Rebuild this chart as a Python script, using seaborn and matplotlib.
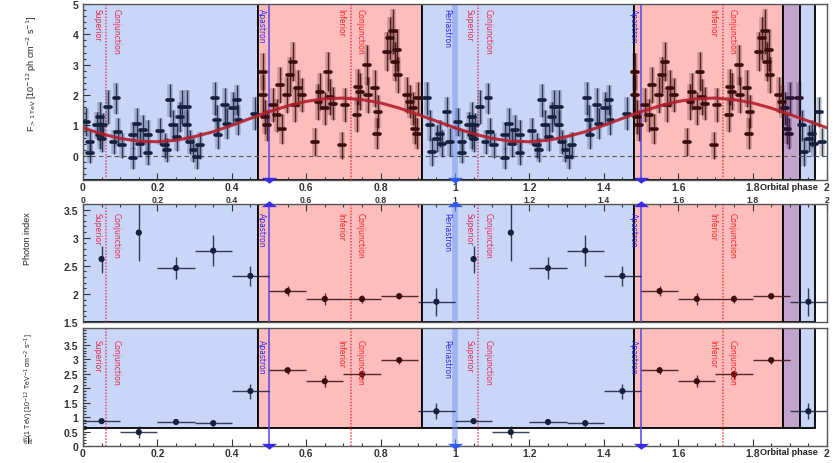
import matplotlib
matplotlib.use("Agg")
import matplotlib.pyplot as plt
import matplotlib.ticker as mticker
import numpy as np
import pandas as pd
import seaborn as sns

# ---------------- data (folded over one orbit) ----------------
lc_phase = [0.008, 0.019, 0.019, 0.037, 0.046, 0.046, 0.050, 0.055, 0.068, 0.082,
            0.090, 0.095, 0.104, 0.135, 0.135, 0.144, 0.153, 0.162, 0.176, 0.176,
            0.207, 0.220, 0.225, 0.234, 0.243, 0.252, 0.261, 0.265, 0.279, 0.279,
            0.288, 0.297, 0.306, 0.315, 0.355, 0.359, 0.364, 0.382, 0.386, 0.404,
            0.413, 0.418, 0.462, 0.485, 0.485, 0.489, 0.494, 0.512, 0.521, 0.530,
            0.534, 0.548, 0.556, 0.565, 0.570, 0.579, 0.588, 0.624, 0.633, 0.637,
            0.651, 0.659, 0.664, 0.673, 0.695, 0.704, 0.736, 0.740, 0.745, 0.763,
            0.767, 0.785, 0.790, 0.794, 0.816, 0.825, 0.834, 0.839, 0.843, 0.848,
            0.870, 0.879, 0.888, 0.892, 0.897, 0.901, 0.924, 0.933, 0.937, 0.951,
            0.960, 0.964, 0.978, 0.987]
lc_flux = [1.11, 0.10, 0.45, 1.00, 0.67, 1.28, 0.56, 1.00, 1.61, 0.45,
           1.89, 0.78, 0.34, 0.67, -0.08, 1.06, 0.40, 0.84, 0.67, 0.10,
           0.80, 0.34, 0.18, 1.83, 1.00, 0.62, 1.28, 1.61, 1.61, 1.00,
           0.45, 0.18, -0.04, 0.34, 1.89, 1.17, 0.67, 1.67, 1.06, 1.56,
           1.83, 1.17, 1.39, 2.77, 2.00, 1.28, 1.00, 1.67, 1.33, 2.33,
           0.89, 2.00, 2.66, 3.10, 1.67, 2.22, 2.00, 0.45, 1.78, 2.11,
           1.56, 2.77, 1.94, 1.72, 0.34, 1.67, 1.33, 2.27, 2.11, 2.99,
           2.00, 2.22, 0.73, 1.45, 3.43, 3.87, 4.10, 3.10, 3.49, 2.66,
           2.00, 1.78, 1.56, 0.89, 0.73, 1.89, 1.89, 1.00, 0.12, 0.56,
           0.73, 0.40, 1.45, 0.45]
lc_err = [0.45, 0.35, 0.40, 0.45, 0.45, 0.50, 0.45, 0.40, 0.55, 0.40,
          0.50, 0.45, 0.40, 0.45, 0.35, 0.50, 0.45, 0.50, 0.50, 0.40,
          0.45, 0.40, 0.40, 0.55, 0.50, 0.45, 0.50, 0.55, 0.55, 0.50,
          0.40, 0.40, 0.40, 0.45, 0.55, 0.50, 0.45, 0.55, 0.50, 0.55,
          0.50, 0.50, 0.55, 0.60, 0.65, 0.55, 0.50, 0.55, 0.55, 0.60,
          0.50, 0.60, 0.60, 0.65, 0.55, 0.60, 0.55, 0.45, 0.60, 0.60,
          0.55, 0.65, 0.60, 0.55, 0.45, 0.55, 0.55, 0.60, 0.60, 0.65,
          0.60, 0.60, 0.50, 0.55, 0.65, 0.70, 0.75, 0.65, 0.70, 0.60,
          0.60, 0.55, 0.55, 0.50, 0.50, 0.55, 0.55, 0.50, 0.45, 0.45,
          0.45, 0.45, 0.50, 0.45]

fit_phase = [0.00, 0.05, 0.10, 0.15, 0.20, 0.25, 0.30, 0.35, 0.40, 0.45, 0.50,
             0.55, 0.60, 0.65, 0.70, 0.75, 0.80, 0.85, 0.90, 0.95, 1.00]
fit_flux = [0.92, 0.72, 0.57, 0.48, 0.46, 0.51, 0.63, 0.79, 1.00, 1.23, 1.45,
            1.64, 1.79, 1.88, 1.90, 1.85, 1.74, 1.57, 1.36, 1.14, 0.92]

bin_phase = [0.05, 0.15, 0.25, 0.35, 0.45, 0.55, 0.65, 0.75, 0.85, 0.95]
index_xerr = [0.0, 0.0, 0.05, 0.05, 0.05, 0.05, 0.05, 0.05, 0.05, 0.05]
index_val = [2.62, 3.09, 2.46, 2.77, 2.32, 2.05, 1.91, 1.91, 1.96, 1.86]
index_err = [0.24, 0.50, 0.19, 0.27, 0.18, 0.09, 0.10, 0.07, 0.05, 0.25]
norm_xerr = [0.05, 0.05, 0.05, 0.05, 0.05, 0.05, 0.05, 0.05, 0.05, 0.05]
norm_val = [0.86, 0.48, 0.83, 0.79, 1.90, 2.62, 2.24, 2.48, 2.97, 1.20]
norm_err = [0.06, 0.20, 0.07, 0.12, 0.26, 0.12, 0.20, 0.15, 0.12, 0.27]

cycles = [0, 1]

region_start = [0.0, 0.47, 0.911, 1.481, 1.882, 1.927]
region_end = [0.47, 0.911, 1.481, 1.882, 1.927, 1.968]
region_kind = ["blue", "red", "blue", "red", "purple", "blue"]

sup_conj = [0.062, 1.062]
inf_conj = [0.72, 1.72]
apastron = [0.50, 1.50]
periastron = [1.00]

xticks = [0, 0.2, 0.4, 0.6, 0.8, 1.0, 1.2, 1.4, 1.6, 1.8, 2.0]
xticklabels = ["0", "0.2", "0.4", "0.6", "0.8", "1", "1.2", "1.4", "1.6", "1.8", "2"]

# ---------------- style ----------------
sns.set_theme(style="ticks")
plt.rcParams["font.family"] = ["Liberation Sans", "DejaVu Sans"]

FILL = {"blue": "#c9d6f8", "red": "#fdbdbd", "purple": "#c3a4cf"}
PT = {"blue": "#14203c", "red": "#3a0c0c", "purple": "#2a1030"}
NARROW = ["Liberation Sans Narrow", "DejaVu Sans"]
C_CONJ_S = "#e0284c"
C_CONJ_I = "#ff2222"
C_APA = "#5548e8"
C_PERI = "#7b96f2"
C_TXT_B = "#2a2af0"


def kind_of(x):
    for s, e, k in zip(region_start, region_end, region_kind):
        if s <= x < e:
            return k
    return "blue"


W, H = 835, 464
fig = plt.figure(figsize=(W / 100, H / 100), dpi=100)
fig.patch.set_facecolor("white")
L, R = 83, 827
ax1 = fig.add_axes([L / W, 1 - 181 / H, (R - L) / W, 176 / H])
ax2 = fig.add_axes([L / W, 1 - 323 / H, (R - L) / W, 118 / H])
ax3 = fig.add_axes([L / W, 1 - 447 / H, (R - L) / W, 118 / H])

ax1.set_ylim(-0.8, 5.0)
ax2.set_ylim(1.5, 3.6)
ax3.set_ylim(0.0, 4.08)

for ax, ybot in [(ax1, 0.0), (ax2, 0.0), (ax3, 0.62 / 4.08)]:
    ax.set_xlim(0, 2)
    ax.set_facecolor("white")
    for s, e, k in zip(region_start, region_end, region_kind):
        ax.axvspan(s, e, ymin=ybot, ymax=1.0, facecolor=FILL[k],
                   edgecolor="black", lw=1.3, zorder=0)
    for x in sup_conj:
        ax.axvline(x, color=C_CONJ_S, ls=(0, (1, 1)), lw=1.1, alpha=0.8, zorder=1)
    for x in inf_conj:
        ax.axvline(x, color=C_CONJ_I, ls=(0, (1, 1)), lw=1.1, alpha=0.8, zorder=1)
    for x in apastron:
        ax.axvline(x, color=C_APA, lw=1.4, alpha=0.8, zorder=1)
    for x in periastron:
        ax.axvline(x, color=C_PERI, lw=4, alpha=0.55, zorder=1)
    for sp in ax.spines.values():
        sp.set_color("#555555")
        sp.set_linewidth(1.0)
    ax.set_xticks(xticks)
    ax.xaxis.set_minor_locator(mticker.MultipleLocator(0.05))
    ax.tick_params(axis="both", which="both", direction="in", colors="#333333",
                   labelsize=7.5, width=0.8)
    ax.tick_params(axis="both", which="major", length=5)
    ax.tick_params(axis="both", which="minor", length=2.5)

# ---------------- top panel: light curve ----------------
ax1.axhline(0, color="#555555", ls=(0, (4, 3)), lw=0.8, zorder=1)
rows = []
for c in cycles:
    for p, f, e in zip(lc_phase, lc_flux, lc_err):
        rows.append({"phase": p + c, "flux": f, "err": e})
lc = pd.DataFrame(rows)
lc = lc[lc["phase"] <= 2.0]
for _, r in lc.iterrows():
    k = kind_of(r["phase"])
    ax1.errorbar(r["phase"], r["flux"], yerr=r["err"], fmt="none",
                 ecolor=PT[k], elinewidth=4, alpha=0.22, zorder=2)
    ax1.errorbar(r["phase"], r["flux"], yerr=r["err"], xerr=0.008, fmt="none",
                 ecolor=PT[k], elinewidth=1.0, alpha=0.85, zorder=3)
    ax1.plot([r["phase"] - 0.008, r["phase"] + 0.008], [r["flux"], r["flux"]],
             color=PT[k], lw=2.6, solid_capstyle="round", zorder=4)

fit_rows = []
for c in cycles:
    for p, f in zip(fit_phase, fit_flux):
        fit_rows.append({"phase": p + c, "flux": f, "cycle": c})
fit_df = pd.DataFrame(fit_rows)
sns.lineplot(data=fit_df, x="phase", y="flux", units="cycle", estimator=None,
             color="#b51e2c", lw=2.2, alpha=0.9, ax=ax1, zorder=5)

ax1.set_yticks([0, 1, 2, 3, 4, 5])
ax1.yaxis.set_minor_locator(mticker.MultipleLocator(0.2))
ax1.set_xticks(xticks)
ax1.set_xticklabels(xticklabels, fontweight="bold")
ax1.tick_params(axis="x", pad=1.5)
for lbl in ax1.get_yticklabels():
    lbl.set_fontweight("bold")

# ---------------- binned panels ----------------
brows = []
for c in cycles:
    for p, xe, iv, ie, nxe, nv, ne in zip(bin_phase, index_xerr, index_val, index_err,
                                          norm_xerr, norm_val, norm_err):
        brows.append({"phase": p + c, "ixe": xe, "index": iv, "ie": ie,
                      "nxe": nxe, "norm": nv, "ne": ne})
bins = pd.DataFrame(brows)
bins["kind"] = [kind_of(p) for p in bins["phase"]]

for _, r in bins.iterrows():
    col = PT[r["kind"]]
    ax2.errorbar(r["phase"], r["index"], yerr=r["ie"], xerr=r["ixe"], fmt="none",
                 ecolor=col, elinewidth=1.0, alpha=0.85, zorder=3)
    ax3.errorbar(r["phase"], r["norm"], yerr=r["ne"], xerr=r["nxe"], fmt="none",
                 ecolor=col, elinewidth=1.0, alpha=0.85, zorder=3)
sns.scatterplot(data=bins, x="phase", y="index", hue="kind",
                palette=PT, s=20, edgecolor="none", legend=False, ax=ax2, zorder=4)
sns.scatterplot(data=bins, x="phase", y="norm", hue="kind",
                palette=PT, s=20, edgecolor="none", legend=False, ax=ax3, zorder=4)

ax2.set_yticks([1.5, 2, 2.5, 3, 3.5])
ax2.set_yticklabels(["1.5", "2", "2.5", "3", "3.5"], fontweight="bold")
ax2.yaxis.set_minor_locator(mticker.MultipleLocator(0.1))
ax2.xaxis.tick_top()
ax2.set_xticks(xticks)
ax2.set_xticklabels(xticklabels, fontweight="bold", fontsize=6.2)
ax2.tick_params(axis="x", which="both", direction="in", pad=0.3)

ax3.set_yticks([0, 0.5, 1, 1.5, 2, 2.5, 3, 3.5])
ax3.set_yticklabels(["0", "0.5", "1", "1.5", "2", "2.5", "3", "3.5"], fontweight="bold")
ax3.yaxis.set_minor_locator(mticker.MultipleLocator(0.1))
ax3.set_xticks(xticks)
ax3.set_xticklabels(xticklabels, fontweight="bold")
ax3.tick_params(axis="x", pad=1.5)

for ax in (ax1, ax2, ax3):
    ax.set_xlabel("")
    ax.set_ylabel("")

# ---------------- markers for apastron / periastron ----------------
tri_dn = [(-1.3, 0.45), (1.3, 0.45), (0, -0.55), (-1.3, 0.45)]
tri_up = [(-1.3, -0.45), (1.3, -0.45), (0, 0.55), (-1.3, -0.45)]
for ax, y, mk in [(ax1, -0.8, tri_dn), (ax2, 3.6, tri_up), (ax3, 0.0, tri_dn)]:
    for x in apastron:
        ax.plot([x], [y], marker=mk, ms=11, color="#3a2ae8", mec="none",
                clip_on=False, zorder=6)
    for x in periastron:
        ax.plot([x], [y], marker=mk, ms=11, color="#2f5cf0", mec="none",
                clip_on=False, zorder=6)

# ---------------- vertical labels ----------------
def vlabels(ax, ytop):
    tr = ax.get_xaxis_transform()
    kw = dict(rotation=270, va="top", ha="center", fontsize=5.5,
              family=NARROW, transform=tr, zorder=7)
    for x in sup_conj:
        ax.text(x - 0.024, ytop, "Superior", color=C_CONJ_S, **kw)
        ax.text(x + 0.026, ytop, "Conjunction", color=C_CONJ_S, **kw)
    for x in inf_conj:
        ax.text(x - 0.026, ytop, "Inferior", color=C_CONJ_I, **kw)
        ax.text(x + 0.026, ytop, "Conjunction", color=C_CONJ_I, **kw)
    for x in apastron:
        ax.text(x - 0.02, ytop, "Apastron", color=C_TXT_B, **kw)
    for x in periastron:
        ax.text(x - 0.022, ytop, "Periastron", color=C_TXT_B, **kw)


vlabels(ax1, 0.975)
vlabels(ax2, 0.93)
vlabels(ax3, 0.91)

# ---------------- axis titles ----------------
fig.text(32 / W, 1 - 16 / H,
         r"F$_{>1\,\mathrm{TeV}}$ [10$^{-12}$ ph cm$^{-2}$ s$^{-1}$]",
         rotation=90, va="top", ha="center", fontsize=6.5, color="#222222")
fig.text(28 / W, 1 - 212 / H, "Photon index", rotation=90, va="top", ha="center",
         fontsize=6.5, color="#222222")
fig.text(30 / W, 1 - 333 / H,
         r"$\frac{dN}{dE}$(1 TeV) [10$^{-12}$ TeV$^{-1}$ cm$^{-2}$ s$^{-1}$]",
         rotation=90, va="top", ha="center", fontsize=5, color="#222222")
fig.text(818 / W, 1 - 188 / H, "Orbital phase", ha="right", va="center",
         fontsize=6.5, fontweight="bold", color="#222222")
fig.text(818 / W, 1 - 453 / H, "Orbital phase", ha="right", va="center",
         fontsize=6.5, fontweight="bold", color="#222222")

fig.savefig("out.png", dpi=100, facecolor="white")
